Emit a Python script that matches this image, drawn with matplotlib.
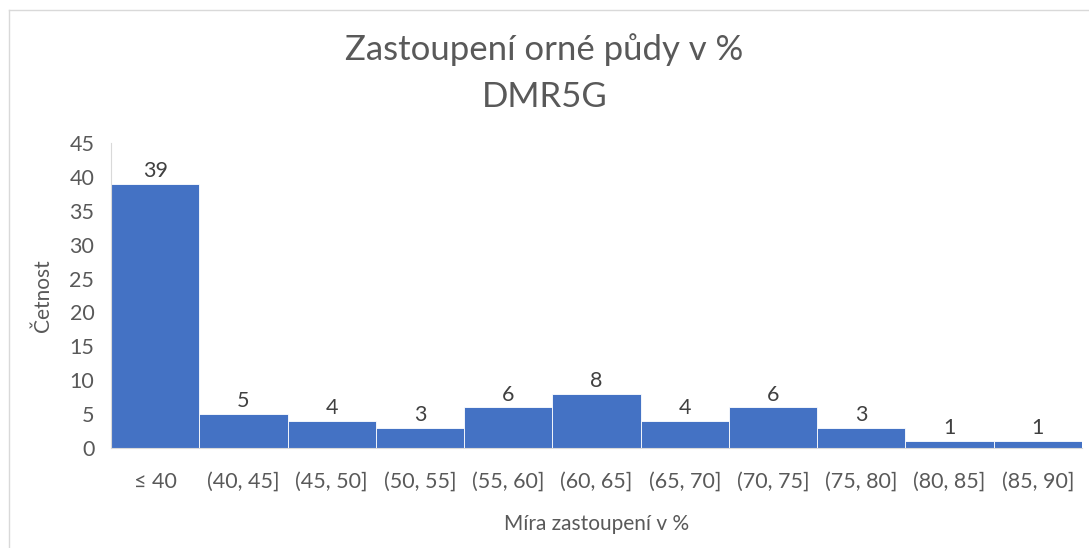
import matplotlib.pyplot as plt
from matplotlib.lines import Line2D

kategorie = ["≤ 40", "(40, 45]", "(45, 50]", "(50, 55]", "(55, 60]", "(60, 65]",
             "(65, 70]", "(70, 75]", "(75, 80]", "(80, 85]", "(85, 90]"]
cetnosti = [39, 5, 4, 3, 6, 8, 4, 6, 3, 1, 1]
y_ticky = [0, 5, 10, 15, 20, 25, 30, 35, 40, 45]

plt.rcParams['font.family'] = ['Lato', 'DejaVu Sans']
seda = "#595959"

fig = plt.figure(figsize=(10.89, 5.48), dpi=100)
ax = fig.add_axes([111 / 1089, 1 - 448 / 548, 971 / 1089, 305 / 548])

x = list(range(len(kategorie)))
bars = ax.bar(x, cetnosti, width=1.0, color="#4472C4", edgecolor="white", linewidth=0.6)
for b, v in zip(bars, cetnosti):
    ax.annotate(str(v), (b.get_x() + b.get_width() / 2, v), xytext=(0, 2),
                textcoords="offset points", ha="center", va="bottom",
                fontsize=15.5, color="#404040")

ax.set_xlim(-0.5, len(kategorie) - 0.5)
ax.set_ylim(0, 45)
ax.set_yticks(y_ticky)
ax.set_xticks(x)
ax.set_xticklabels(kategorie)
ax.tick_params(axis="both", length=0, labelsize=15.5, labelcolor=seda)
ax.tick_params(axis="x", pad=17)
ax.tick_params(axis="y", pad=12)

for s in ["top", "right"]:
    ax.spines[s].set_visible(False)
ax.spines["left"].set_color("#D9D9D9")
ax.spines["bottom"].set_color("#D9D9D9")

ax.set_ylabel("Četnost", fontsize=15, color=seda, labelpad=12)
ax.set_xlabel("Míra zastoupení v %", fontsize=15, color=seda, labelpad=16)

fig.text(0.5, 1 - 50 / 548, "Zastoupení orné půdy v %", ha="center", va="center",
         fontsize=25, color=seda)
fig.text(0.5, 1 - 97 / 548, "DMR5G", ha="center", va="center", fontsize=25, color=seda)

# okraj grafu
fig.add_artist(Line2D([9 / 1089, 9 / 1089], [0, 1 - 10 / 548], color="#D9D9D9", lw=1))
fig.add_artist(Line2D([9 / 1089, 1], [1 - 10 / 548, 1 - 10 / 548], color="#D9D9D9", lw=1))

plt.savefig("out.png", dpi=100)
